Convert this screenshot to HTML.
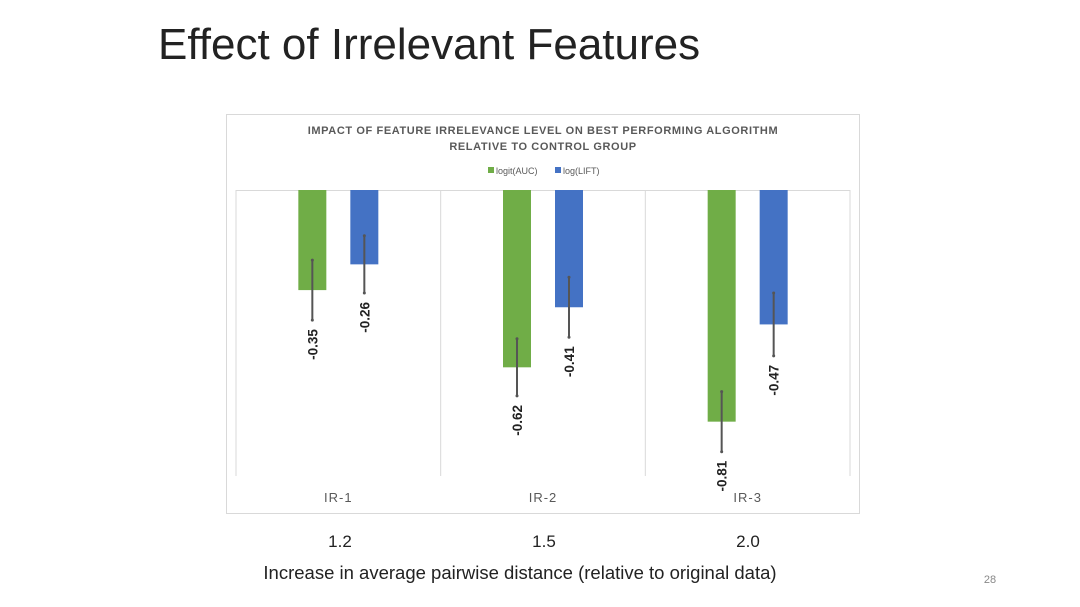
<!DOCTYPE html>
<html><head><meta charset="utf-8"><style>
body{margin:0;background:#fff;width:1080px;height:607px;overflow:hidden;font-family:"Liberation Sans",sans-serif;position:relative}
.t{position:absolute;white-space:nowrap}
</style></head><body>
<div class="t" style="left:158px;top:20px;font-size:44px;color:#222;font-weight:300">Effect of Irrelevant Features</div>
<svg width="1080" height="607" style="position:absolute;left:0;top:0">
<rect x="226.5" y="114.5" width="633" height="399" fill="#fff" stroke="#d9d9d9"/>
<text x="543" y="134" text-anchor="middle" font-size="11" font-weight="bold" fill="#595959" letter-spacing="0.6">IMPACT OF FEATURE IRRELEVANCE LEVEL ON BEST PERFORMING ALGORITHM</text>
<text x="543" y="150" text-anchor="middle" font-size="11" font-weight="bold" fill="#595959" letter-spacing="0.6">RELATIVE TO CONTROL GROUP</text>
<rect x="488" y="167" width="6" height="6" fill="#70ad47"/>
<text x="496" y="174" font-size="9" fill="#595959">logit(AUC)</text>
<rect x="555" y="167" width="6" height="6" fill="#4472c4"/>
<text x="563" y="174" font-size="9" fill="#595959">log(LIFT)</text>
<g id="plot"></g>
<text x="340" y="547" text-anchor="middle" font-size="17" fill="#222">1.2</text>
<text x="544" y="547" text-anchor="middle" font-size="17" fill="#222">1.5</text>
<text x="748" y="547" text-anchor="middle" font-size="17" fill="#222">2.0</text>
<text x="520" y="579" text-anchor="middle" font-size="18.5" fill="#222">Increase in average pairwise distance (relative to original data)</text>
<text x="990" y="583" text-anchor="middle" font-size="11" fill="#888">28</text>
</svg>
<script>
const categories=["IR-1","IR-2","IR-3"];
const aucValues=[-0.35,-0.62,-0.81];
const liftValues=[-0.26,-0.41,-0.47];
const aucErr=[0.105,0.1,0.105];
const liftErr=[0.1,0.105,0.11];
const NS="http://www.w3.org/2000/svg";
const plotG=document.getElementById('plot');
const PL=236,PR=850,PT=190,PB=476,perUnit=286;
const cw=(PR-PL)/categories.length;
const yScale=v=>PT-v*perUnit;
function mk(t,a){const e=document.createElementNS(NS,t);for(const k in a)e.setAttribute(k,a[k]);plotG.appendChild(e);return e;}
for(let i=0;i<=categories.length;i++){
 const l=mk('line',{x1:PL+i*cw,x2:PL+i*cw,y1:PT,y2:PB,stroke:'#d9d9d9'});
 
 
}
const zeroLine=mk('line',{x1:PL,x2:PR,y1:PT+0.5,y2:PT+0.5,stroke:'#d9d9d9'});


categories.forEach((c,i)=>{
 const cx=PL+i*cw+cw/2;
 const ct=mk('text',{x:cx,y:502,'text-anchor':'middle','font-size':13,fill:'#595959','letter-spacing':'1'});
 ct.textContent=c;
 
 
 [[aucValues,aucErr,'#70ad47',-38,'auc'],[liftValues,liftErr,'#4472c4',14,'lift']].forEach(([vals,errs,col,off,nm])=>{
  const x=cx+off-2,v=vals[i];
  const r=mk('rect',{x:x,y:PT,width:28,height:yScale(v)-PT,fill:col});
  
  
  const mx=x+14,e1=yScale(v+errs[i]),e2=yScale(v-errs[i]);
  const eb=mk('line',{x1:mx,x2:mx,y1:e1,y2:e2,stroke:'#555','stroke-width':2});
  
  
  mk('circle',{cx:mx,cy:e1,r:1.5,fill:'#555'});
  mk('circle',{cx:mx,cy:e2,r:1.5,fill:'#555'});
  const t=mk('text',{x:0,y:0,'font-size':13.5,'font-weight':'bold',fill:'#222','text-anchor':'end',transform:`translate(${mx+5},${e2+9}) rotate(-90)`});
  t.textContent=v.toFixed(2);
  
  
 });
});
</script>
</body></html>
